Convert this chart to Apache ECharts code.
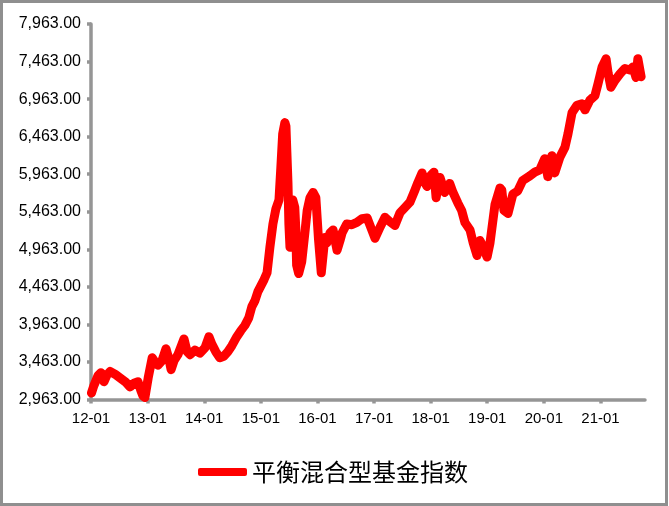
<!DOCTYPE html>
<html>
<head>
<meta charset="utf-8">
<script src="https://cdn.jsdelivr.net/npm/echarts@6/dist/echarts.min.js"></script>
<style>
html,body{margin:0;padding:0;background:#fff;}
#chart{width:669px;height:506px;}
</style>
</head>
<body>
<div id="chart"></div>
<script>
const seriesName = '平衡混合型基金指数';
const yTicks = [2963, 3463, 3963, 4463, 4963, 5463, 5963, 6463, 6963, 7463, 7963];
const xTickLabels = ['12-01','13-01','14-01','15-01','16-01','17-01','18-01','19-01','20-01','21-01'];
const dates = [
'2012-01-04','2012-01-20','2012-02-15','2012-03-05','2012-03-25','2012-04-13','2012-05-03','2012-06-04','2012-07-06','2012-08-14',
'2012-09-09','2012-10-04','2012-10-30','2012-11-18','2012-12-01','2012-12-14','2013-01-04','2013-01-30','2013-02-18','2013-03-08',
'2013-04-03','2013-04-29','2013-05-18','2013-06-01','2013-06-20','2013-07-15','2013-08-10','2013-08-23','2013-09-12','2013-10-01',
'2013-11-02','2013-12-04','2014-01-05','2014-01-31','2014-02-19','2014-03-16','2014-04-11','2014-05-07','2014-06-02','2014-06-28',
'2014-07-30','2014-08-25','2014-09-20','2014-10-15','2014-11-04','2014-11-24','2014-12-13','2015-01-02','2015-01-22','2015-02-10',
'2015-03-01','2015-03-20','2015-04-08','2015-04-28','2015-05-10','2015-05-22','2015-06-05','2015-06-12','2015-06-18','2015-06-25',
'2015-07-01','2015-07-08','2015-07-16','2015-07-26','2015-08-08','2015-08-14','2015-08-20','2015-09-02','2015-09-22','2015-10-12',
'2015-10-27','2015-11-14','2015-12-04','2015-12-22','2016-01-08','2016-01-26','2016-02-18','2016-03-03','2016-03-22','2016-04-11',
'2016-05-07','2016-05-26','2016-06-08','2016-07-08','2016-08-10','2016-09-12','2016-10-15','2016-11-17','2016-12-17','2017-01-07',
'2017-02-09','2017-03-12','2017-04-13','2017-05-15','2017-06-17','2017-07-19','2017-08-20','2017-09-21','2017-10-10','2017-11-06',
'2017-11-25','2017-12-08','2018-01-03','2018-01-22','2018-02-05','2018-03-02','2018-04-02','2018-05-04','2018-05-25','2018-06-25',
'2018-07-20','2018-08-10','2018-09-12','2018-10-02','2018-10-27','2018-11-15','2018-12-05','2018-12-31','2019-01-19','2019-02-20',
'2019-03-24','2019-04-05','2019-04-19','2019-05-15','2019-06-16','2019-07-17','2019-08-18','2019-10-03','2019-11-04','2019-12-06',
'2020-01-07','2020-01-27','2020-02-22','2020-03-12','2020-04-14','2020-05-16','2020-06-05','2020-07-01','2020-08-02','2020-09-03',
'2020-09-23','2020-10-25','2020-11-26','2020-12-16','2021-01-11','2021-02-06','2021-02-19','2021-03-09','2021-04-04','2021-05-07',
'2021-06-07','2021-07-09','2021-07-29','2021-08-18','2021-08-30','2021-09-20'
];
const values = [
3050,3150,3280,3320,3200,3290,3336,3300,3250,3190,
3130,3180,3200,3080,3010,2990,3250,3520,3460,3420,
3480,3640,3500,3360,3480,3560,3700,3770,3600,3560,
3620,3580,3650,3800,3700,3600,3520,3540,3600,3680,
3800,3880,3950,4050,4200,4280,4400,4480,4560,4650,
5000,5300,5500,5620,6050,6500,6650,6600,6250,5850,
5300,4990,5400,5620,5520,5256,4750,4640,4800,5180,
5480,5650,5720,5650,5100,4650,5120,5050,5180,5220,
4950,5080,5180,5300,5290,5320,5370,5380,5220,5110,
5260,5390,5330,5280,5450,5520,5590,5750,5850,5980,
5850,5800,5950,5990,5650,5920,5720,5840,5720,5580,
5480,5320,5220,5050,4880,5080,5000,4860,5050,5560,
5780,5750,5480,5440,5700,5740,5880,5940,5990,6020,
6170,5930,6210,5980,6190,6320,6500,6780,6880,6900,
6820,6950,7010,7170,7390,7500,7310,7120,7210,7300,
7370,7350,7390,7250,7500,7260
];

const axisGray = '#959595';
const chart = echarts.init(document.getElementById('chart'), null, {renderer: 'canvas'});
const data = dates.map((d, i) => [d, values[i]]);

const axisLineCfg = {show: true, lineStyle: {color: axisGray, width: 3.5, type: 'solid'}};
const axisTickCfg = {show: true, length: 4, lineStyle: {color: axisGray, width: 3.5}};

chart.setOption({
  animation: false,
  backgroundColor: '#ffffff',
  textStyle: {fontFamily: 'Liberation Sans, Arial, sans-serif'},
  graphic: [{
    type: 'rect',
    shape: {x: 1.5, y: 1.5, width: 665, height: 503},
    style: {fill: 'none', stroke: '#8f8f8f', lineWidth: 3},
    silent: true
  }],
  grid: {left: 91, right: 24, top: 24, bottom: 106.5, containLabel: false, outerBoundsMode: 'none'},
  legend: {
    left: 193, top: 455,
    itemWidth: 49, itemHeight: 8,
    icon: 'roundRect',
    data: [seriesName],
    textStyle: {fontFamily: 'Noto Sans CJK SC', fontSize: 24, color: '#000'}
  },
  xAxis: {
    type: 'time',
    min: '2012-01-01',
    max: '2021-10-15',
    minInterval: 365 * 24 * 3600 * 1000,
    maxInterval: 366 * 24 * 3600 * 1000,
    splitLine: {show: false},
    axisLine: axisLineCfg,
    axisTick: axisTickCfg,
    axisLabel: {
      color: '#000', fontSize: 15, margin: 12,
      fontFamily: 'Liberation Sans, Arial, sans-serif',
      showMinLabel: true, showMaxLabel: false,
      formatter: function (v) {
        const y = new Date(v).getFullYear();
        const idx = y - 2012;
        return xTickLabels[idx] !== undefined ? xTickLabels[idx] : '';
      }
    }
  },
  yAxis: {
    type: 'value',
    min: yTicks[0],
    max: yTicks[yTicks.length - 1],
    interval: yTicks[1] - yTicks[0],
    splitLine: {show: false},
    axisLine: axisLineCfg,
    axisTick: axisTickCfg,
    axisLabel: {
      color: '#000', fontSize: 16, margin: 10,
      fontFamily: 'Liberation Sans, Arial, sans-serif',
      formatter: function (v) {
        return v.toLocaleString('en-US', {minimumFractionDigits: 2, maximumFractionDigits: 2});
      }
    }
  },
  series: [{
    name: seriesName,
    type: 'line',
    data: data,
    showSymbol: false,
    symbol: 'none',
    color: '#ff0000',
    lineStyle: {color: '#ff0000', width: 9, cap: 'round', join: 'round'}
  }]
});
</script>
</body>
</html>
